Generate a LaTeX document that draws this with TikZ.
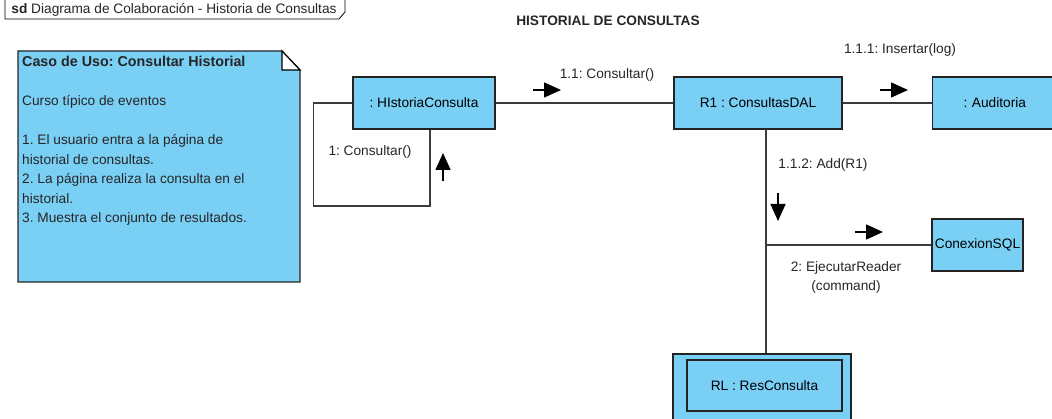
\documentclass[tikz,border=0pt]{standalone}
\usepackage{fontspec}
\setmainfont{Liberation Sans}
\usetikzlibrary{arrows.meta}
\definecolor{vpcolor0001}{RGB}{122,207,245}
\definecolor{vpcolor0002}{RGB}{35,35,35}
\definecolor{vpcolor0003}{RGB}{60,60,60}
\frenchspacing
\begin{document}
\begin{tikzpicture}[yscale=-1
,pstyle0/.style={draw=vpcolor0002,fill=vpcolor0001,line width=1.2pt,inner sep=0,font=\fontsize{13.7}{16}\selectfont}
,pstyle1/.style={color=vpcolor0003,line width=1.2pt}
,pstyle2/.style={color=black,line width=1.5pt,-{Triangle[length=17pt,width=15pt]}}
,pstyle3/.style={color=black!85,inner sep=0,font=\fontsize{13.7}{16}\selectfont}
,pstyle4/.style={draw=black,fill=white,line width=0.8pt}
]
\useasboundingbox (0pt,0pt) rectangle (1052pt,419pt);
% frame label
\draw[pstyle4] (5pt,-2pt) -- (5pt,19pt) -- (339pt,19pt) -- (345pt,12pt) -- (345pt,-2pt);
\node (frame) at (174pt,10pt)[pstyle3]{\textbf{sd} Diagrama de Colaboración - Historia de Consultas};
\node (title) at (608pt,21pt)[pstyle3]{\textbf{HISTORIAL DE CONSULTAS}};
% note
\draw[pstyle0] (18pt,51pt) -- (282pt,51pt) -- (300pt,70pt) -- (300pt,282pt) -- (18pt,282pt) -- cycle;
\draw[pstyle4,line width=1.2pt] (282pt,51pt) -- (282pt,70pt) -- (300pt,70pt) -- cycle;
\node (notetext) at (22pt,56pt)[pstyle3,anchor=north west,align=left,font=\fontsize{13.7}{19.5}\selectfont]{\textbf{\fontsize{14.3}{19.5}\selectfont Caso de Uso: Consultar Historial}\\ ~\\ Curso típico de eventos\\ ~\\ 1. El usuario entra a la página de\\ historial de consultas.\\ 2. La página realiza la consulta en el\\ historial.\\ 3. Muestra el conjunto de resultados.};
% objects
\node (hist) at (424pt,103pt)[pstyle0,minimum width=142pt,minimum height=52pt]{: HIstoriaConsulta};
\node (r1) at (758pt,103pt)[pstyle0,minimum width=168pt,minimum height=52pt]{R1 : ConsultasDAL};
\node (aud) at (932pt,103pt)[pstyle0,anchor=west,minimum width=130pt,minimum height=52pt,text width=130pt,align=left]{\hspace{31pt}: Auditoria};
\node (sql) at (977.5pt,245pt)[pstyle0,minimum width=91pt,minimum height=52pt]{ConexionSQL};
\node (rlout) at (762pt,387pt)[pstyle0,minimum width=178pt,minimum height=66pt]{};
\node (rl) at (764.5pt,385.5pt)[pstyle0,minimum width=155pt,minimum height=51pt]{RL : ResConsulta};
% links
\draw[pstyle1] (hist.east) -- (r1.west);
\draw[pstyle1] (r1.east) -- (aud.west);
\coordinate (top) at (766pt,129pt);
\coordinate (split) at (766pt,245pt);
\draw[pstyle1] (top) -- (split) -- (rlout.north -| top);
\draw[pstyle1] (split) -- (sql.west);
\draw[pstyle1] (hist.west) -- ++(-39pt,0pt) |- (430pt,206pt) -- (hist.south -| 430pt,0pt);
% messages
\draw[pstyle2] (533pt,90pt) -- (561pt,90pt);
\node (m11) at (607pt,75pt)[pstyle3]{1.1: Consultar()};
\draw[pstyle2] (880pt,90pt) -- (908pt,90pt);
\node (m111) at (900pt,50pt)[pstyle3]{1.1.1: Insertar(log)};
\draw[pstyle2] (778pt,193pt) -- (778pt,221pt);
\node (m112) at (823pt,165pt)[pstyle3]{1.1.2: Add(R1)};
\draw[pstyle2] (855pt,232pt) -- (883pt,232pt);
\node (m2) at (846pt,277.5pt)[pstyle3,align=center,font=\fontsize{13.7}{19}\selectfont]{2: EjecutarReader\\(command)};
\draw[pstyle2] (443pt,181pt) -- (443pt,153pt);
\node (m1) at (370pt,152pt)[pstyle3]{1: Consultar()};
\end{tikzpicture}
\end{document}
